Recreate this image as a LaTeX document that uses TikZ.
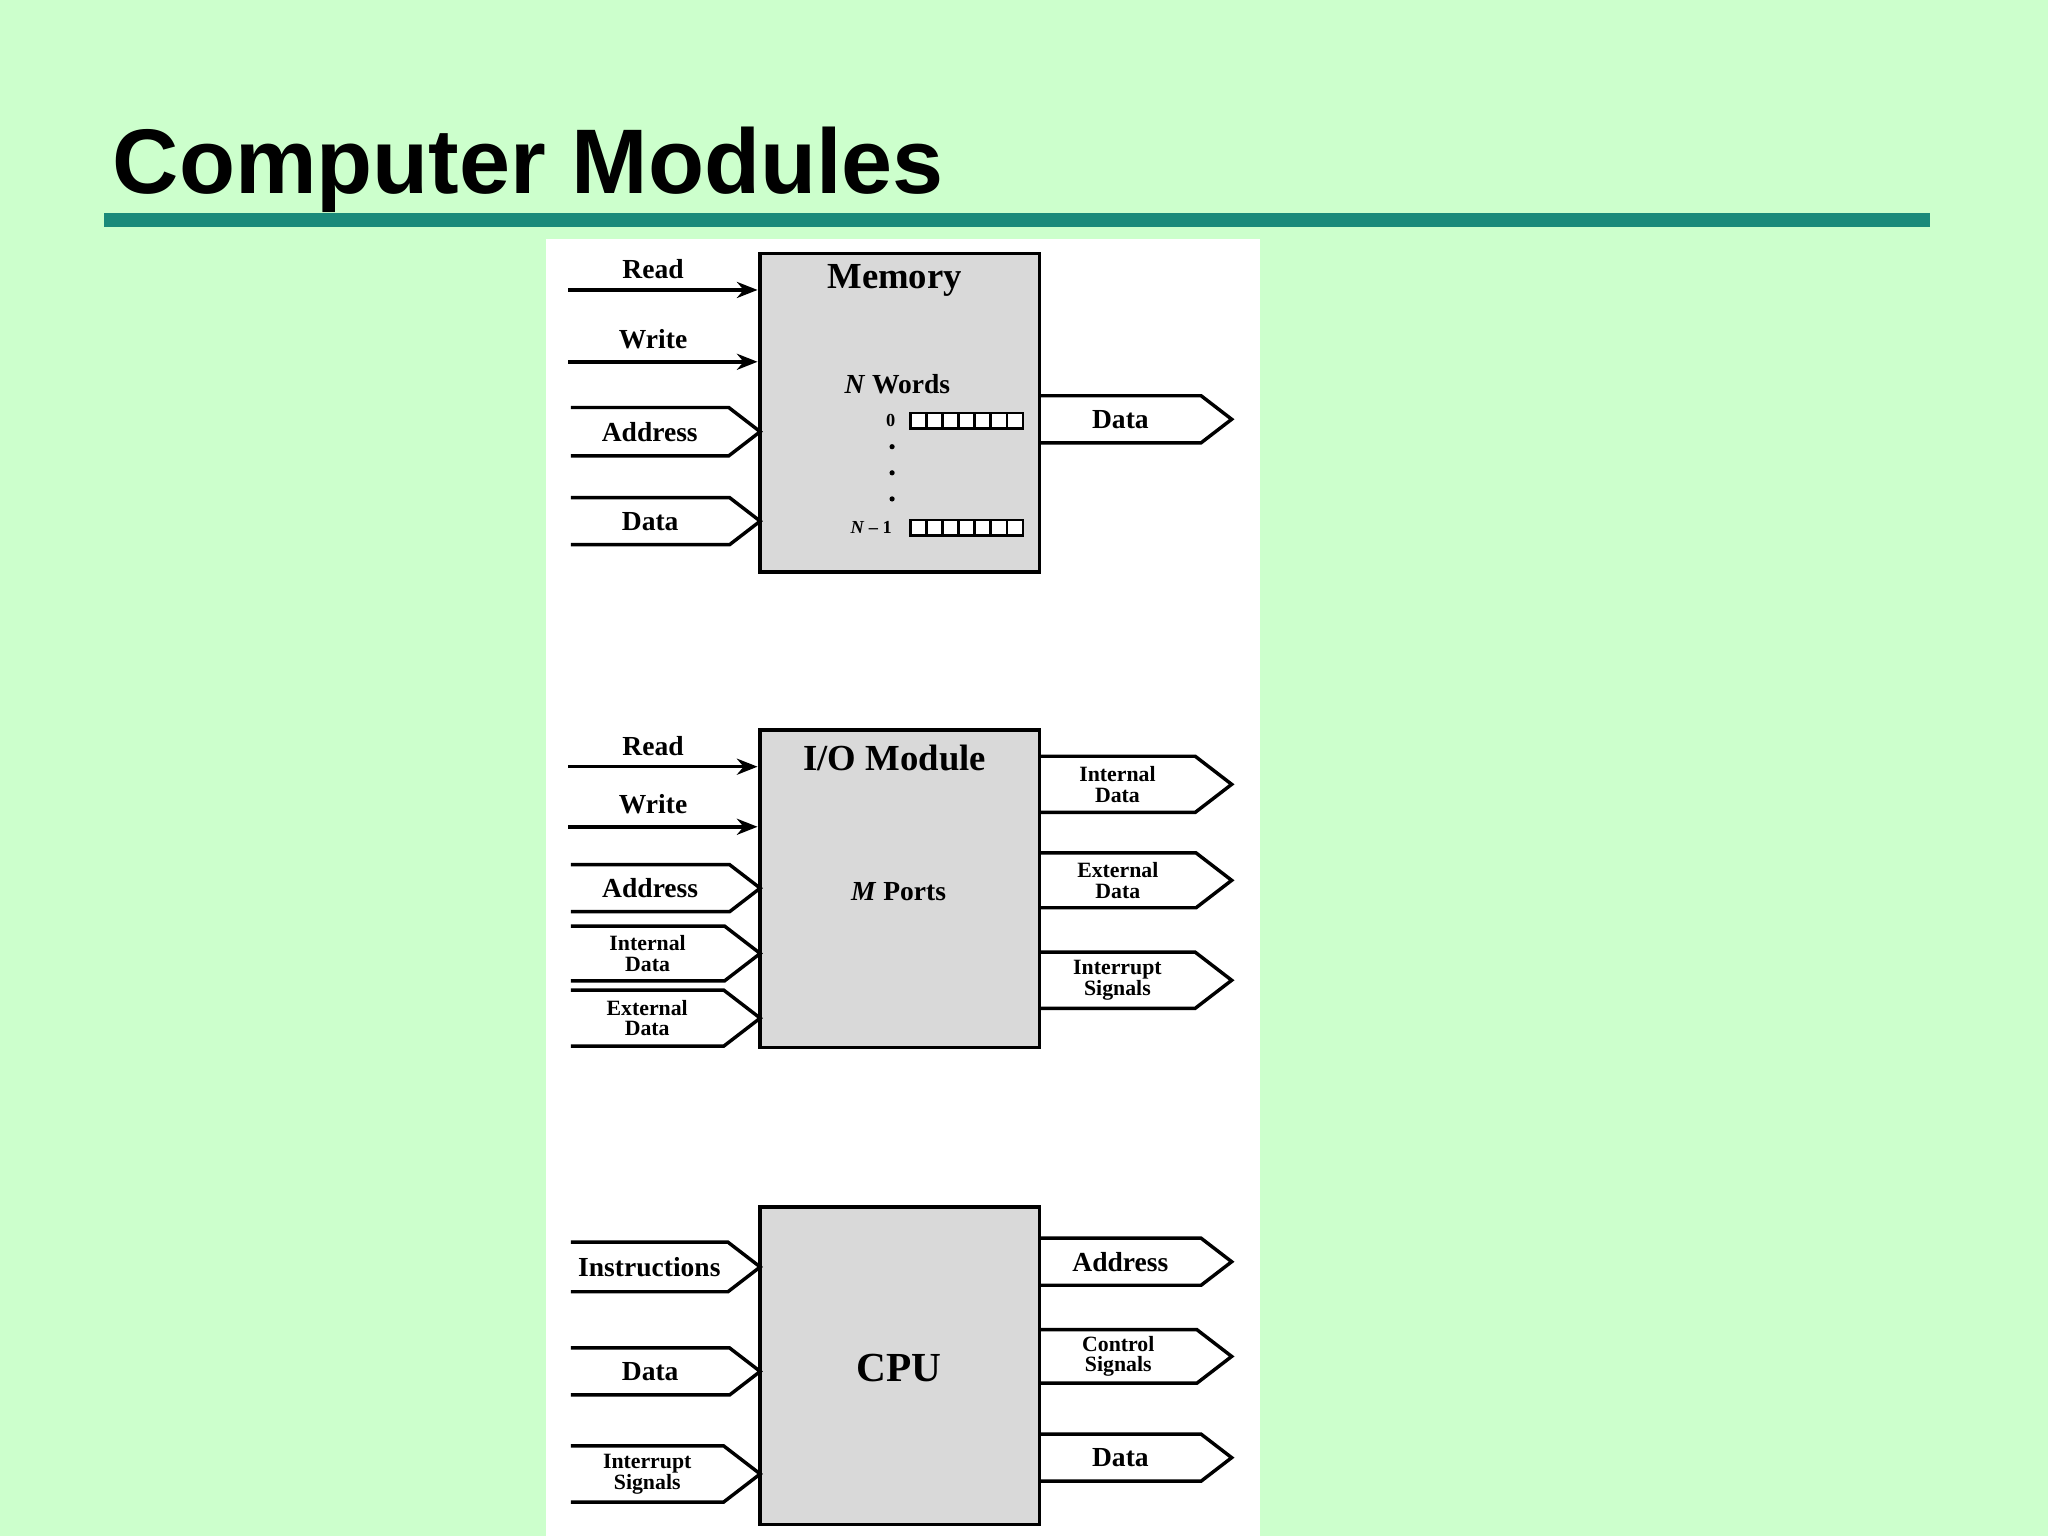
\documentclass[tikz,border=0pt]{standalone}
\usepackage{fontspec}
\setmainfont{Liberation Serif}
\newfontfamily\titlefont{Liberation Sans}
\usetikzlibrary{arrows.meta}
\definecolor{bg}{HTML}{CCFFCC}
\definecolor{teal2}{HTML}{1A8A7A}
\definecolor{boxfill}{HTML}{D9D9D9}
\tikzset{
  box/.style={draw=black,line width=1.5pt,fill=boxfill},
  bus/.style={draw=black,line width=1.5pt,line join=miter},
  sig/.style={draw=black,line width=1.5pt,-{Stealth[length=9pt,width=7pt]}},
  lab/.style={font=\bfseries\fontsize{12}{12}\selectfont,inner sep=0pt},
  slab/.style={font=\bfseries\fontsize{9.5}{9}\selectfont,align=center,inner sep=0pt},
  ttl/.style={font=\bfseries\fontsize{16}{16}\selectfont,inner sep=0pt},
}
% \busL{x0}{xtip}{ytop}{ybot}{style}{label}
\newcommand\busdraw[6]{%
  \pgfmathsetmacro\xt{#2-(#4-#3)*0.65}%
  \pgfmathsetmacro\ym{(#3+#4)/2}%
  \pgfmathsetmacro\xc{(#1+\xt)/2}%
  \draw[bus] (#1,#3) -- (\xt,#3) -- (#2,\ym) -- (\xt,#4) -- (#1,#4);
  \node[#5] at (\xc,\ym) {#6};}
\begin{document}
\begin{tikzpicture}[x=0.02cm,y=-0.02cm]
\fill[bg] (0,0) rectangle (1568,1176);
\useasboundingbox (0,0) rectangle (1568,1176);
\node[anchor=base west,inner sep=0pt,font=\titlefont\bfseries\fontsize{40}{40}\selectfont] (title) at (86,148) {Computer Modules};
\fill[teal2] (80,163) rectangle (1478,174);
\fill[white] (418,183) rectangle (965,1176);
% Memory
\draw[box] (582,194) rectangle (796,438);
\node[ttl] (mem) at (685,215) {Memory};
\coordinate (r1) at (435,222); \draw[sig] (r1) -- (580,222);
\node[lab] at (500,206) {Read};
\coordinate (w1) at (435,277); \draw[sig] (w1) -- (580,277);
\node[lab] at (500,260) {Write};
\busdraw{437}{582}{312}{349}{lab}{Address}
\busdraw{437}{582}{381}{417}{lab}{Data}
\busdraw{796}{943}{303}{339}{lab}{Data}
\node[lab] at (687,294) {\textit{N} Words};
\node[font=\bfseries\fontsize{8}{8}\selectfont,inner sep=0pt] at (682,322) {0};
\node[font=\bfseries\fontsize{8}{8}\selectfont,inner sep=0pt] at (667,404) {\textit{N} – 1};
\foreach \yy in {316,398}{
  \draw[line width=1pt,fill=white] (697,\yy) rectangle (783,\yy+12);
  \foreach \i in {1,...,6} \draw[line width=1pt] (697+\i*12.29,\yy) -- (697+\i*12.29,\yy+12);}
\foreach \yy in {342,362,382} \fill (683,\yy) circle (2);
% I/O
\draw[box] (582,559) rectangle (796,802);
\node[ttl] at (685,580) {I/O Module};
\node[lab] at (688,683) {\textit{M} Ports};
\draw[sig] (435,587) -- (580,587); \node[lab] at (500,571) {Read};
\draw[sig] (435,633) -- (580,633); \node[lab] at (500,616) {Write};
\busdraw{437}{582}{662}{698}{lab}{Address}
\busdraw{437}{582}{709}{751}{slab}{Internal\\Data}
\busdraw{437}{582}{758}{801}{slab}{External\\Data}
\busdraw{796}{943}{579}{622}{slab}{Internal\\Data}
\busdraw{796}{943}{653}{695}{slab}{External\\Data}
\busdraw{796}{943}{729}{772}{slab}{Interrupt\\Signals}
% CPU
\draw[box] (582,924) rectangle (796,1167);
\node[font=\bfseries\fontsize{18}{18}\selectfont,inner sep=0pt] at (688,1047) {CPU};
\busdraw{437}{582}{951}{989}{lab}{Instructions}
\busdraw{437}{582}{1032}{1068}{lab}{Data}
\busdraw{437}{582}{1107}{1150}{slab}{Interrupt\\Signals}
\busdraw{796}{943}{948}{984}{lab}{Address}
\busdraw{796}{943}{1018}{1059}{slab}{Control\\Signals}
\busdraw{796}{943}{1098}{1134}{lab}{Data}
\end{tikzpicture}
\end{document}
